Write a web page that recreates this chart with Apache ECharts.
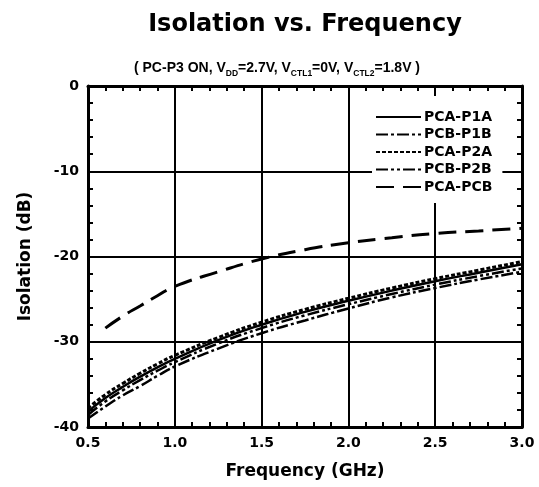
<!DOCTYPE html>
<html>
<head>
<meta charset="utf-8">
<script src="https://cdn.jsdelivr.net/npm/echarts@6/dist/echarts.min.js"></script>
<style>html,body{margin:0;padding:0;background:#fff;}#c{width:539px;height:487px;}</style>
</head>
<body>
<div id="c"></div>
<script>
var freqs = [0.5, 0.6, 0.7, 0.8, 0.9, 1.0, 1.25, 1.5, 1.75, 2.0, 2.25, 2.5, 2.75, 3.0];
var pcaP1A = [-38.2, -36.6, -35.3, -34.1, -33.0, -32.0, -29.8, -28.0, -26.5, -25.2, -24.0, -22.9, -21.9, -20.9];
var pcbP1B = [-39.0, -37.6, -36.3, -35.2, -34.0, -32.9, -30.8, -29.0, -27.5, -26.1, -24.8, -23.7, -22.7, -21.8];
var pcaP2A = [-37.8, -36.2, -34.9, -33.7, -32.6, -31.6, -29.5, -27.7, -26.2, -24.9, -23.7, -22.6, -21.6, -20.6];
var pcbP2B = [-38.6, -37.0, -35.7, -34.5, -33.4, -32.4, -30.2, -28.4, -26.9, -25.6, -24.4, -23.3, -22.3, -21.4];
var pcbFreqs = [0.6, 0.7, 0.8, 0.9, 1.0, 1.25, 1.5, 1.75, 2.0, 2.25, 2.5, 2.75, 3.0];
var pcaPCB = [-28.4, -27.0, -25.8, -24.6, -23.5, -21.8, -20.3, -19.2, -18.4, -17.8, -17.3, -17.0, -16.7];
var seriesNames = ['PCA-P1A', 'PCB-P1B', 'PCA-P2A', 'PCB-P2B', 'PCA-PCB'];

function pairs(xs, ys) { return xs.map(function (x, i) { return [x, ys[i]]; }); }

var F = 'DejaVu Sans';
var chart = echarts.init(document.getElementById('c'), null, {renderer: 'canvas'});

var styles = [
  {type: 'solid', width: 2.5},
  {type: [12, 3, 3, 3], width: 2.5},
  {type: [4, 2], width: 3},
  {type: [12, 3, 3, 3, 3, 3], width: 2.5},
  {type: [18, 9], width: 3}
];
var datas = [pairs(freqs, pcaP1A), pairs(freqs, pcbP1B), pairs(freqs, pcaP2A), pairs(freqs, pcbP2B), pairs(pcbFreqs, pcaPCB)];

var series = seriesNames.map(function (n, i) {
  return {
    name: n, type: 'line', data: datas[i], smooth: true, symbol: 'none',
    xAxisIndex: 0, yAxisIndex: 0,
    lineStyle: {color: '#000', width: styles[i].width, type: styles[i].type, cap: 'butt'},
    itemStyle: {color: '#000'},
    z: 3
  };
});

var xBase = {
  type: 'value', min: 0.5, max: 3.0, interval: 0.5,
  axisLine: {show: true, onZero: false, lineStyle: {color: '#000', width: 3}},
  axisTick: {show: true, inside: true, length: 6, lineStyle: {color: '#000', width: 2}},
  minorTick: {show: true, splitNumber: 5, length: 5, lineStyle: {color: '#000', width: 2}}
};
var yBase = {
  type: 'value', min: -40, max: 0, interval: 10,
  axisLine: {show: true, onZero: false, lineStyle: {color: '#000', width: 3}},
  axisTick: {show: true, inside: true, length: 6, lineStyle: {color: '#000', width: 2}},
  minorTick: {show: true, splitNumber: 5, length: 5, lineStyle: {color: '#000', width: 2}}
};

var option = {
  animation: false,
  backgroundColor: '#fff',
  title: [
    {text: 'Isolation vs. Frequency', left: 305, textAlign: 'center', top: 12, padding: 0,
      textStyle: {fontFamily: F, fontWeight: 'bold', fontSize: 24, color: '#000', lineHeight: 26}},
    {text: '( PC-P3 ON, V{s|DD}=2.7V, V{s|CTL1}=0V, V{s|CTL2}=1.8V )', left: 277, textAlign: 'center', top: 60, padding: 0,
      textStyle: {fontFamily: 'Liberation Sans', fontWeight: 'bold', fontSize: 14, color: '#000', lineHeight: 16, verticalAlign: 'top',
        rich: {s: {fontFamily: 'Liberation Sans', fontWeight: 'bold', fontSize: 8.5, color: '#000', lineHeight: 10, padding: [9, 0, 0, 0], verticalAlign: 'top'}}}}
  ],
  grid: {left: 88, right: 17, top: 86, bottom: 60, containLabel: false},
  xAxis: [
    Object.assign({}, xBase, {
      position: 'bottom',
      name: 'Frequency (GHz)', nameLocation: 'middle', nameGap: 36,
      nameTextStyle: {fontFamily: F, fontWeight: 'bold', fontSize: 17, color: '#000'},
      axisLabel: {show: true, margin: 9, fontFamily: F, fontWeight: 'bold', fontSize: 14, color: '#000',
        formatter: function (v) { return v.toFixed(1); }},
      splitLine: {show: true, lineStyle: {color: '#000', width: 2}}
    }),
    Object.assign({}, xBase, {position: 'top', axisLabel: {show: false}, splitLine: {show: false}})
  ],
  yAxis: [
    Object.assign({}, yBase, {
      position: 'left',
      name: 'Isolation (dB)', nameLocation: 'middle', nameGap: 54, nameRotate: 90,
      nameTextStyle: {fontFamily: F, fontWeight: 'bold', fontSize: 17, color: '#000'},
      axisLabel: {show: true, margin: 9, fontFamily: F, fontWeight: 'bold', fontSize: 14, color: '#000'},
      splitLine: {show: true, lineStyle: {color: '#000', width: 2}}
    }),
    Object.assign({}, yBase, {position: 'right', axisLabel: {show: false}, splitLine: {show: false}})
  ],
  legend: {
    data: seriesNames, orient: 'vertical', left: 372, top: 96,
    padding: [14, 10, 9, 3], backgroundColor: '#fff',
    itemWidth: 45, itemHeight: 14, itemGap: 3.5,
    itemStyle: {opacity: 0},
    textStyle: {fontFamily: F, fontWeight: 'bold', fontSize: 14, color: '#000', padding: [0, 0, 0, -2]},
    z: 10
  },
  series: series
};
chart.setOption(option);
</script>
</body>
</html>
